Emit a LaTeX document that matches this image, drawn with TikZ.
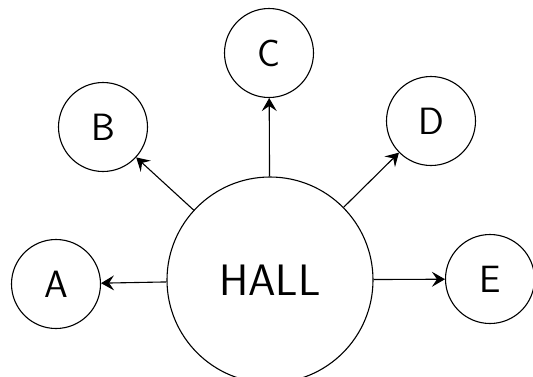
\documentclass[tikz,border=0pt]{standalone}
\usepackage{xcolor}
\usepackage{tikz}
\usetikzlibrary{arrows.meta, positioning}

\begin{document}
\begin{tikzpicture}[x=1pt, y=-1pt, ->, >={Stealth[length=13pt, width=15pt, inset=5pt]},
  line width=1.1pt,
  room/.style={circle, draw, minimum size=89pt, inner sep=0pt, font=\sffamily\fontsize{38}{38}\selectfont},
  hall/.style={circle, draw, minimum size=206pt, inner sep=0pt, font=\sffamily\fontsize{44}{44}\selectfont}]
\useasboundingbox (0,0) rectangle (533,376);
% Salas
\node[hall] (hall) at (270,280) {HALL};
\node[room] (a) at (56,284) {A};
\node[room] (b) at (103,127) {B};
\node[room] (c) at (269,53) {C};
\node[room] (d) at (431,121) {D};
\node[room] (e) at (490,279) {E};
% Accesos
\path
(hall) edge (a)
(hall) edge (b)
(hall) edge (c)
(hall) edge (d)
(hall) edge (e);
\end{tikzpicture}
\end{document}
